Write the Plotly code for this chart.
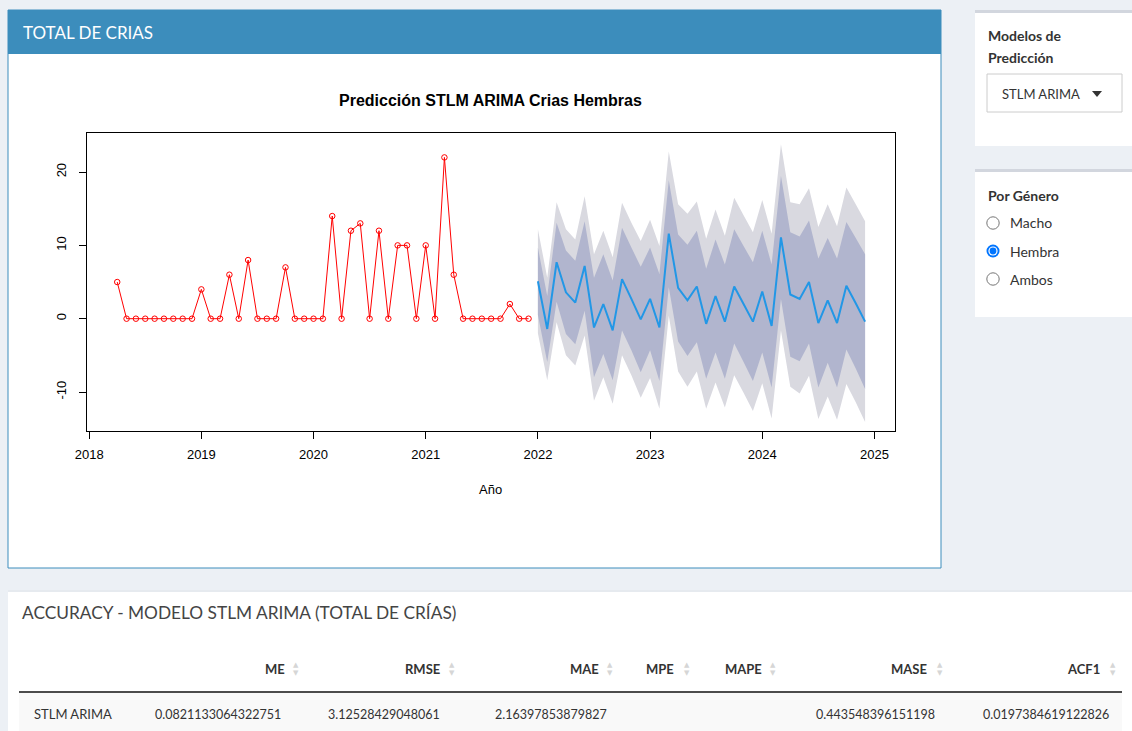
import numpy as np
import plotly.graph_objects as go

# ---------------- data ----------------
# Monthly female births, Apr 2018 - Dec 2021
hist_start = (2018, 4)
hist_values = [5, 0, 0, 0, 0, 0, 0, 0, 0, 4, 0, 0, 6, 0, 8, 0, 0, 0, 7, 0, 0, 0, 0,
               14, 0, 12, 13, 0, 12, 0, 10, 10, 0, 10, 0, 22, 6, 0, 0, 0, 0, 0, 2, 0, 0]

# STLM ARIMA forecast, Jan 2022 - Dec 2024
fc_start = (2022, 1)
fc_mean = [5.1, -1.4, 7.7, 3.6, 2.2, 7.2, -1.2, 2.0, -1.6, 5.4, 2.7, -0.1,
           2.7, -1.2, 11.6, 4.2, 2.5, 4.4, -0.7, 3.1, -0.4, 4.4, 2.0, -0.4,
           3.7, -1.0, 11.1, 3.3, 2.7, 5.0, -0.6, 2.5, -0.6, 4.5, 2.1, -0.4]
fc_lo80 = [0.5, -5.9, 2.3, -2.1, -3.5, 1.1, -8.0, -4.8, -8.4, -1.6, -4.3, -7.3,
           -4.3, -8.5, 4.3, -3.1, -5.1, -3.2, -8.2, -4.6, -8.2, -3.4, -5.9, -8.5,
           -4.6, -9.4, 2.7, -5.2, -5.8, -3.4, -9.4, -6.0, -9.4, -4.2, -6.8, -9.6]
fc_hi80 = [9.7, 3.1, 13.1, 9.3, 7.9, 13.3, 5.6, 8.8, 5.2, 12.4, 9.7, 7.1,
           9.7, 6.1, 18.9, 11.5, 10.1, 12.0, 6.8, 10.8, 7.4, 12.2, 9.9, 7.7,
           12.0, 7.4, 19.5, 11.8, 11.2, 13.4, 8.2, 11.0, 8.2, 13.2, 11.0, 8.8]
fc_lo95 = [-2.0, -8.4, -0.5, -5.0, -6.4, -2.3, -11.2, -8.0, -11.6, -5.0, -7.7, -10.8,
           -8.1, -12.3, 0.4, -7.2, -9.3, -7.2, -12.3, -8.7, -12.1, -7.7, -10.1, -12.6,
           -8.8, -13.6, -1.6, -9.3, -10.2, -7.8, -13.7, -10.6, -13.8, -8.9, -11.4, -14.1]
fc_hi95 = [12.2, 5.6, 15.9, 12.2, 10.8, 16.7, 8.8, 12.0, 8.4, 15.8, 13.1, 10.6,
           13.5, 9.9, 22.8, 15.6, 14.3, 16.0, 10.9, 14.9, 11.3, 16.5, 14.1, 11.8,
           16.2, 11.6, 23.8, 15.9, 15.6, 17.8, 12.5, 15.6, 12.6, 17.9, 15.6, 13.3]

year_ticks = [2018, 2019, 2020, 2021, 2022, 2023, 2024, 2025]
value_ticks = [-10, 0, 10, 20]

# accuracy table
table_row_label = "STLM ARIMA"
table_cols = ["ME", "RMSE", "MAE", "MPE", "MAPE", "MASE", "ACF1"]
table_values = ["0.0821133064322751", "3.12528429048061", "2.16397853879827", "", "",
                "0.443548396151198", "0.0197384619122826"]

model_options_label = "STLM ARIMA"
gender_options = ["Macho", "Hembra", "Ambos"]
gender_selected = "Hembra"


def month_axis(start, n):
    y, m = start
    return y + (m - 1) / 12 + np.arange(n) / 12


x_hist = month_axis(hist_start, len(hist_values))
x_fc = month_axis(fc_start, len(fc_mean))

# ---------------- page geometry (pixels) ----------------
W, H = 1132, 731


def fx(x):
    return x / W


def fy(y):
    return 1 - y / H


fig = go.Figure()

# prediction bands: 95% then 80% on top
fig.add_trace(go.Scatter(x=x_fc, y=fc_lo95, mode="lines", line=dict(width=0),
                         showlegend=False, hoverinfo="skip"))
fig.add_trace(go.Scatter(x=x_fc, y=fc_hi95, mode="lines", line=dict(width=0),
                         fill="tonexty", fillcolor="#d9d9e0", showlegend=False,
                         hoverinfo="skip"))
fig.add_trace(go.Scatter(x=x_fc, y=fc_lo80, mode="lines", line=dict(width=0),
                         showlegend=False, hoverinfo="skip"))
fig.add_trace(go.Scatter(x=x_fc, y=fc_hi80, mode="lines", line=dict(width=0),
                         fill="tonexty", fillcolor="#b1b5ce", showlegend=False,
                         hoverinfo="skip"))
# point forecast
fig.add_trace(go.Scatter(x=x_fc, y=fc_mean, mode="lines",
                         line=dict(color="#2297E6", width=2), showlegend=False))
# observed series
fig.add_trace(go.Scatter(x=x_hist, y=hist_values, mode="lines+markers",
                         line=dict(color="#ff0000", width=1),
                         marker=dict(symbol="circle-open", size=5.5, color="#ff0000",
                                     line=dict(width=1)),
                         showlegend=False))

shapes = []
annotations = []


def rect(x0, y0, x1, y1, fill, line_color=None, line_width=0):
    shapes.append(dict(type="rect", xref="paper", yref="paper",
                       x0=fx(x0), x1=fx(x1), y0=fy(y1), y1=fy(y0),
                       fillcolor=fill, layer="below",
                       line=dict(color=line_color or fill, width=line_width)))


def circle(cx, cy, r, fill, line_color=None, line_width=0, layer="above"):
    shapes.append(dict(type="circle", xref="paper", yref="paper",
                       x0=fx(cx - r), x1=fx(cx + r), y0=fy(cy + r), y1=fy(cy - r),
                       fillcolor=fill, layer=layer,
                       line=dict(color=line_color or fill, width=line_width)))


def text(x, y, s, size, color="#333333", anchor="left", bold=False,
         family="Lato"):
    annotations.append(dict(xref="paper", yref="paper", x=fx(x), y=fy(y),
                            text=f"<b>{s}</b>" if bold else s, showarrow=False,
                            xanchor=anchor, yanchor="middle",
                            font=dict(size=size, color=color, family=family)))


# main chart box
rect(8, 10, 941, 568, "#ffffff", "#3c8dbc", 1)
rect(8, 10, 941, 54, "#3c8dbc")
text(21, 32, "TOTAL DE CRIAS", 17, "#ffffff")

# model selector box
rect(975, 10, 1140, 146, "#ffffff")
rect(975, 10, 1140, 13, "#d2d6de")
text(986, 35, "Modelos de", 14, "#333333", bold=True)
text(986, 58, "Predicción", 14, "#333333", bold=True)
rect(987, 74, 1122, 112, "#ffffff", "#cccccc", 1)
text(1000, 94, model_options_label, 13, "#333333")
shapes.append(dict(type="path", xref="paper", yref="paper",
                   path=f"M {fx(1092)},{fy(91)} L {fx(1102)},{fy(91)} L {fx(1097)},{fy(97)} Z",
                   fillcolor="#333333", line=dict(width=0)))

# gender selector box
rect(975, 169, 1140, 317, "#ffffff")
rect(975, 169, 1140, 172, "#d2d6de")
text(986, 195, "Por Género", 14, "#333333", bold=True)
for k, opt in enumerate(gender_options):
    cy = 223 + 28 * k
    if opt == gender_selected:
        circle(993, cy, 6.5, "#0075ff")
        circle(993, cy, 4.6, "#ffffff")
        circle(993, cy, 3.4, "#0075ff")
    else:
        circle(993, cy, 6.2, "#ffffff", "#767676", 1)
    text(1008, cy, opt, 14, "#333333")

# accuracy table box
rect(8, 590, 1140, 740, "#ffffff")
rect(8, 590, 1140, 592, "#e6eaef")
text(20, 612, "ACCURACY - MODELO STLM ARIMA (TOTAL DE CRÍAS)", 17.3, "#444444")

head_right = [287, 442, 601, 676, 764, 929, 1102]
sort_x = [296, 452, 610, 687, 773, 940, 1113]
data_right = [283, 442, 609, 676, 764, 937, 1111]
for col, hr, sx in zip(table_cols, head_right, sort_x):
    text(hr, 669, col, 13, "#333333", anchor="right", bold=True)
    text(sx, 665, "▲", 7, "#d6d6d6", anchor="center", family="DejaVu Sans")
    text(sx, 673, "▼", 7, "#d6d6d6", anchor="center", family="DejaVu Sans")
shapes.append(dict(type="line", xref="paper", yref="paper",
                   x0=fx(19), x1=fx(1122), y0=fy(692), y1=fy(692),
                   line=dict(color="#111111", width=1.5)))
rect(19, 693, 1122, 740, "#f9f9f9")
text(32, 714, table_row_label, 13, "#333333")
for val, dr in zip(table_values, data_right):
    if val:
        text(dr, 714, val, 12.5, "#333333", anchor="right")

# chart title and x-axis label
text(490, 101, "Predicción STLM ARIMA Crias Hembras", 16, "#000000",
     anchor="center", bold=True, family="Liberation Sans")
text(490, 489, "Año", 13, "#000000", anchor="center", family="Liberation Sans")

axis_font = dict(family="Liberation Sans", size=13, color="#000000")
fig.update_layout(
    width=W, height=H,
    margin=dict(l=0, r=0, t=0, b=0, autoexpand=False),
    paper_bgcolor="#ecf0f5",
    plot_bgcolor="#ffffff",
    showlegend=False,
    shapes=shapes,
    annotations=annotations,
    xaxis=dict(domain=[fx(87.3), fx(895)], range=[2017.9833, 2025.1833],
               tickvals=year_ticks, ticktext=[str(v) for v in year_ticks],
               showgrid=False, zeroline=False, showline=True, mirror=True,
               linecolor="#000000", linewidth=1, ticks="outside", ticklen=7,
               tickcolor="#000000", tickwidth=1, tickfont=axis_font,
               ticklabelstandoff=4, automargin=False),
    yaxis=dict(domain=[fy(431), fy(133.3)], range=[-15.32, 25.29],
               tickvals=value_ticks, ticktext=[str(v) for v in value_ticks],
               showgrid=False, zeroline=False,
               showline=True, mirror=True, linecolor="#000000", linewidth=1,
               ticks="outside", ticklen=7, tickcolor="#000000", tickwidth=1,
               tickangle=-90, tickfont=axis_font, ticklabelstandoff=8,
               automargin=False),
)

fig.write_html("out.html")
